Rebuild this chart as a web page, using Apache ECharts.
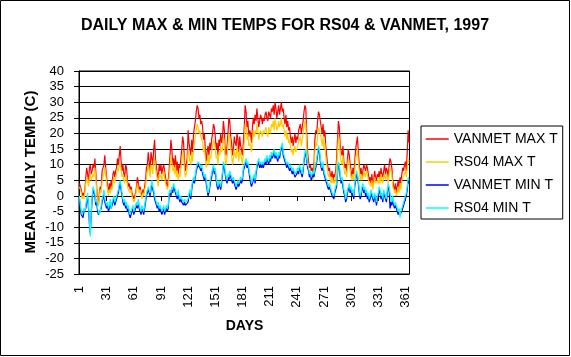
<!DOCTYPE html>
<html>
<head>
<meta charset="utf-8">
<script src="https://cdn.jsdelivr.net/npm/echarts@6/dist/echarts.min.js"></script>
<style>
html,body{margin:0;padding:0;background:#fff;}
#chart{width:571px;height:357px;}
</style>
</head>
<body>
<div id="chart"></div>
<script>
// Day numbers 1..365 (category labels)
var days = [];
for (var i = 1; i <= 365; i++) days.push(String(i));

var seriesNames = ['VANMET MAX T', 'RS04 MAX T', 'VANMET MIN T', 'RS04 MIN T'];

var vanmetMax = [
4,3,2,0,1,0,2,6,9,7,
4,9,10,7,8,10,9,12,8,3,
-1,-3,1,3,2,8,9,10,13,9,
6,3,1,4,2,5,3,7,8,6,
8,9,12,10,13,16,11,8,10,7,
6,10,9,5,3,4,2,3,1,0,
-1,0,1,3,6,4,2,3,1,0,
2,1,3,5,9,10,14,11,8,14,
12,10,15,18,12,9,7,5,10,8,
10,7,9,10,8,6,4,3,5,8,
13,18,15,10,12,9,13,8,11,7,
10,9,12,15,19,17,11,8,10,12,
21,17,15,13,18,14,20,22,24,27,
29,28,25,26,23,24,22,18,20,15,
11,14,16,13,17,15,18,20,23,22,
19,15,17,13,18,16,20,17,19,24,
21,14,13,16,20,25,24,19,17,13,
15,19,17,16,20,18,14,19,16,15,
13,17,22,29,27,22,24,19,21,20,
17,22,25,23,26,24,28,25,22,24,
26,25,23,25,24,26,27,25,24,27,
26,25,28,27,29,26,30,28,25,27,
29,26,28,30,27,28,25,23,26,22,
24,21,22,19,17,19,16,18,20,17,
19,18,21,22,23,20,22,24,27,29,
28,20,14,11,9,10,8,9,7,10,
18,21,20,24,27,26,24,22,20,23,
19,21,16,13,10,8,9,7,6,8,
5,7,6,8,12,18,24,22,16,14,
13,16,11,9,10,8,12,15,13,10,
8,6,9,7,11,15,17,19,14,10,
7,9,6,8,10,9,8,10,9,7,
5,6,4,7,3,5,8,6,5,7,
6,8,5,9,7,6,8,10,7,9,
8,6,10,12,11,9,5,3,2,4,
1,3,5,2,6,4,7,9,8,10,
11,8,14,21,17
];

var rs04Max = [
3,2,1,-1,0,-1,1,4,6,5,
3,6,7,5,6,7,6,9,6,2,
-2,-3,0,2,1,5,6,7,9,7,
4,2,0,2,1,3,2,5,6,4,
6,7,9,8,10,11,8,6,7,5,
4,7,6,3,2,2,1,2,0,-1,
-2,-1,0,2,4,2,1,2,0,-1,
1,0,2,3,6,8,10,8,6,10,
9,7,11,12,9,7,5,3,7,6,
7,5,6,8,6,4,3,2,3,6,
9,13,11,8,9,7,10,6,8,5,
7,6,9,11,14,13,8,6,7,9,
15,13,11,10,14,11,15,17,19,21,
23,22,20,21,19,19,17,14,16,12,
9,11,13,10,13,12,14,16,18,17,
15,12,13,10,14,13,16,14,15,19,
17,11,10,13,16,20,19,15,13,10,
12,15,13,12,16,14,11,15,13,12,
10,13,17,23,22,18,20,16,17,16,
14,18,21,19,21,20,23,21,18,20,
21,20,19,21,20,21,22,20,19,22,
21,20,23,22,24,21,25,23,21,22,
24,22,23,25,22,23,21,19,21,18,
20,17,18,16,14,15,13,15,16,14,
15,15,17,18,19,16,18,20,22,24,
23,16,11,9,7,8,6,7,5,8,
14,17,16,19,22,21,20,18,16,19,
15,17,13,10,8,6,7,5,4,6,
4,5,4,6,9,14,19,18,13,11,
10,13,9,7,8,6,9,12,10,8,
6,5,7,5,8,12,13,15,11,8,
5,7,5,6,8,7,6,8,7,5,
4,4,3,5,2,4,6,4,4,5,
4,6,4,7,5,4,6,7,5,7,
6,4,7,9,8,7,3,2,1,2,
0,1,3,1,4,2,5,6,6,7,
8,6,9,12,11
];

var vanmetMin = [
-1,-4,-6,-6,-7,-5,-5,-4,-2,0,
-4,-9,-12,-6,-1,2,1,0,-3,-2,
-5,-6,-6,-6,-4,-2,-1,1,-2,-3,
-4,-3,-5,-4,-2,-4,-3,-2,-1,-3,
-2,-1,0,1,3,4,2,0,-2,-3,
-2,-4,-3,-5,-4,-6,-7,-7,-5,-4,
-6,-5,-4,-3,-4,-2,-4,-5,-6,-4,
-5,-6,-4,-2,0,1,2,1,0,2,
4,2,1,-1,-2,-3,-4,-3,-5,-4,
-5,-6,-5,-4,-6,-5,-4,-5,-4,0,
1,0,2,1,3,2,1,0,-1,1,
-1,-2,-1,-2,-2,-3,-2,-3,-3,-3,
-2,0,1,-1,2,4,5,4,6,8,
9,10,10,9,8,9,7,6,5,6,
4,2,0,1,3,5,6,8,9,7,
8,5,3,2,4,3,2,4,7,10,
9,7,5,4,6,5,7,6,5,4,
5,4,3,2,3,4,3,4,5,4,
5,8,9,10,11,9,10,8,6,4,
3,4,5,6,4,7,9,10,11,9,
10,9,10,9,10,11,10,12,11,10,
12,11,13,12,13,14,12,13,12,11,
13,12,14,15,16,13,12,11,10,9,
10,9,8,9,8,7,8,7,6,6,
7,8,7,9,8,7,6,8,11,13,
14,11,9,8,6,7,5,6,7,6,
8,9,11,13,15,14,11,9,8,10,
7,6,5,4,3,2,3,2,1,0,
0,-1,1,2,3,7,10,9,6,4,
5,3,1,0,-2,-1,1,2,3,1,
2,0,1,-1,3,5,7,6,4,1,
-1,0,2,3,1,2,0,1,-1,0,
-2,-1,1,0,-1,-2,0,-1,-3,-1,
0,2,1,-1,0,-2,1,0,-1,-2,
1,3,2,-4,-2,-3,-1,-3,-4,-3,
-4,-5,-6,-5,-6,-6,-5,-4,-3,-2,
-1,0,2,5,4
];

var rs04Min = [
0,-3,-5,-6,-6,-4,-5,-3,-1,1,
-3,-8,-13,-5,0,3,2,1,-2,-1,
-4,-5,-6,-5,-3,-1,0,2,-1,-2,
-3,-2,-4,-3,-1,-4,-2,-1,0,-2,
-1,0,1,2,4,5,3,1,-1,-2,
-1,-3,-2,-4,-3,-5,-6,-6,-4,-3,
-5,-4,-3,-2,-3,-1,-3,-4,-5,-3,
-4,-5,-3,-1,1,2,3,2,1,3,
5,3,2,0,-1,-2,-3,-2,-4,-3,
-4,-5,-4,-3,-5,-4,-3,-4,-3,1,
2,1,3,2,4,3,2,1,0,2,
0,-1,0,-1,-1,-2,-1,-2,-2,-2,
-1,1,2,0,3,5,6,5,7,9,
10,11,11,10,9,10,8,7,6,7,
5,3,1,2,4,6,7,9,10,8,
9,6,4,3,5,4,3,5,8,11,
10,8,6,5,7,6,8,7,6,5,
6,5,4,3,4,5,4,5,6,5,
6,9,10,11,12,10,11,9,7,6,
4,5,6,7,5,8,10,11,12,10,
11,10,11,10,11,12,11,13,12,11,
13,12,14,13,14,15,13,14,13,12,
14,13,15,16,17,14,13,12,11,10,
11,10,9,10,9,8,9,8,7,7,
8,9,8,10,9,8,7,9,12,14,
15,12,10,9,7,8,6,7,8,7,
9,10,12,14,16,15,12,10,9,11,
8,7,6,5,4,3,4,3,2,1,
1,0,2,3,4,8,11,10,7,5,
6,4,2,1,-1,0,2,3,4,2,
3,1,2,0,4,6,8,7,5,2,
0,1,3,4,2,3,1,2,0,1,
-1,0,2,1,0,-1,1,0,-2,0,
1,3,2,0,1,-1,2,1,0,-1,
2,4,3,1,-1,-2,0,-2,-3,-2,
-3,-4,-5,-4,-7,-5,-4,-3,-2,-1,
0,1,3,6,5
];

var colors = ['#FF0000', '#FFCC00', '#0000FF', '#00FFFF'];
var dataSets = [vanmetMax, rs04Max, vanmetMin, rs04Min];

var FONT = "'Liberation Sans', Arial, sans-serif";

var chart = echarts.init(document.getElementById('chart'), null, {renderer: 'canvas'});

var series = seriesNames.map(function (n, k) {
  return {
    name: n,
    type: 'line',
    data: dataSets[k],
    symbol: 'none',
    showSymbol: false,
    smooth: false,
    lineStyle: {color: colors[k], width: 1.2},
    itemStyle: {color: colors[k]},
    emphasis: {disabled: true},
    z: 2 + k
  };
});

chart.setOption({
  animation: false,
  backgroundColor: '#fff',
  textStyle: {fontFamily: FONT, color: '#000'},
  grid: {
    left: 79, top: 71, right: 161.5, bottom: 83,
    show: true, borderColor: '#000', borderWidth: 1, backgroundColor: 'transparent'
  },
  legend: {
    orient: 'vertical',
    left: 421, top: 126,
    padding: [6, 5, 4, 4],
    borderColor: '#000', borderWidth: 1,
    itemWidth: 23, itemHeight: 14, itemGap: 9,
    itemStyle: {opacity: 0},
    lineStyle: {width: 1.5},
    textStyle: {fontFamily: FONT, fontSize: 14, color: '#000'},
    data: seriesNames,
    selectedMode: false
  },
  xAxis: {
    type: 'category',
    data: days,
    boundaryGap: true,
    axisLine: {lineStyle: {color: '#000', width: 1}},
    axisTick: {show: true, interval: 29, alignWithLabel: true, length: 5, lineStyle: {color: '#000'}},
    axisLabel: {interval: 29, rotate: 90, margin: 12, fontSize: 13, fontFamily: FONT, color: '#000'},
    splitLine: {show: false}
  },
  yAxis: {
    type: 'value',
    min: -25, max: 40, interval: 5,
    axisLine: {show: true, lineStyle: {color: '#000', width: 1}},
    axisTick: {show: true, length: 5, lineStyle: {color: '#000'}},
    axisLabel: {margin: 15, fontSize: 13, fontFamily: FONT, color: '#000'},
    splitLine: {show: true, lineStyle: {color: '#000', width: 1}}
  },
  graphic: [
    {type: 'rect', shape: {x: 0.5, y: 0.5, width: 569, height: 355}, style: {fill: 'none', stroke: '#000', lineWidth: 1}, silent: true, z: 100},
    {type: 'text', x: 285, y: 26, style: {text: 'DAILY MAX & MIN TEMPS FOR RS04 & VANMET, 1997', font: 'bold 16px ' + FONT, fill: '#000', textAlign: 'center', textVerticalAlign: 'middle'}},
    {type: 'text', x: 31, y: 172, rotation: Math.PI / 2, style: {text: 'MEAN DAILY TEMP (C)', font: 'bold 15px ' + FONT, fill: '#000', textAlign: 'center', textVerticalAlign: 'middle'}},
    {type: 'text', x: 244.5, y: 326, style: {text: 'DAYS', font: 'bold 14px ' + FONT, fill: '#000', textAlign: 'center', textVerticalAlign: 'middle'}}
  ],
  series: series
});
</script>
</body>
</html>
